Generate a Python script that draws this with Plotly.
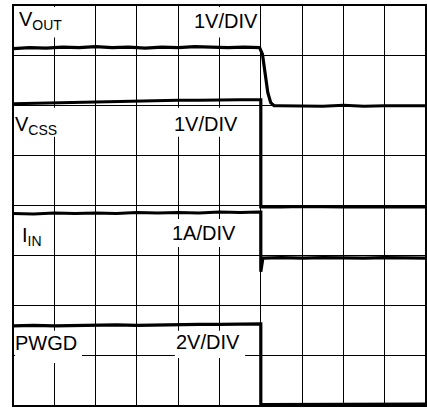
import plotly.graph_objects as go

# Time axis in divisions (10 horizontal divisions), traces in vertical divisions (8)
vout_t = [0, 0.4, 0.8, 1.2, 1.6, 2.0, 2.4, 2.8, 3.2, 3.6, 4.0, 4.4, 4.8, 5.2, 5.6, 5.97,
          6.04, 6.1, 6.17, 6.24, 6.32, 6.45, 7.0, 7.5, 8.0, 8.5, 9.0, 9.5, 10]
vout_v = [7.13, 7.15, 7.14, 7.16, 7.15, 7.17, 7.15, 7.16, 7.14, 7.16, 7.15, 7.17, 7.16, 7.15, 7.16, 7.15,
          7.02, 6.65, 6.25, 6.05, 5.99, 5.99, 5.99, 5.98, 6.0, 5.98, 5.99, 5.99, 5.99]

vcss_t = [0, 0.5, 1, 1.5, 2, 2.5, 3, 3.5, 4, 4.5, 5, 5.5, 6.0, 6.0, 6.5, 7, 8, 9, 10]
vcss_v = [6.03, 6.04, 6.05, 6.06, 6.07, 6.08, 6.09, 6.09, 6.10, 6.10, 6.11, 6.11, 6.11,
          3.97, 3.97, 3.98, 3.97, 3.97, 3.97]

iin_t = [0, 0.5, 1, 1.5, 2, 2.5, 3, 3.5, 4, 4.5, 5, 5.5, 5.97, 6.0, 6.0, 6.05, 6.5, 7,
         7.5, 8, 8.5, 9, 9.5, 10]
iin_v = [3.84, 3.83, 3.85, 3.84, 3.85, 3.84, 3.86, 3.85, 3.86, 3.85, 3.87, 3.86, 3.87, 3.87,
         2.68, 2.95, 2.96, 2.95, 2.96, 2.95, 2.95, 2.96, 2.95, 2.95]

pwgd_t = [0, 0.5, 1, 1.5, 2, 2.5, 3, 3.5, 4, 4.5, 5, 5.5, 6.0, 6.0, 6.5, 7, 7.5, 8, 8.5,
          9, 9.5, 10]
pwgd_v = [1.60, 1.61, 1.60, 1.61, 1.61, 1.62, 1.61, 1.62, 1.62, 1.63, 1.63, 1.64, 1.64,
          0.03, 0.03, 0.04, 0.03, 0.04, 0.03, 0.04, 0.03, 0.04]

labels = ["V<sub>OUT</sub>", "1V/DIV", "V<sub>CSS</sub>", "1V/DIV",
          "I<sub>IN</sub>", "1A/DIV", "PWGD", "2V/DIV"]

FONT = "Liberation Sans, Arial, Helvetica, sans-serif"

fig = go.Figure()
for t, v in [(vout_t, vout_v), (vcss_t, vcss_v), (iin_t, iin_v), (pwgd_t, pwgd_v)]:
    fig.add_trace(go.Scatter(x=t, y=v, mode="lines",
                             line=dict(color="black", width=3.2),
                             hoverinfo="skip", showlegend=False))

# white label boxes (x0, x1, y0, y1 in divisions)
boxes = [(0.05, 1.33, 7.35, 7.96), (4.19, 5.96, 7.35, 7.96),
         (0.05, 1.28, 5.37, 5.95), (3.85, 5.50, 5.37, 5.95),
         (0.05, 0.85, 3.11, 3.71), (3.75, 5.50, 3.17, 3.73),
         (0.05, 1.67, 0.86, 1.50), (3.92, 5.62, 0.96, 1.50)]
for x0, x1, y0, y1 in boxes:
    fig.add_shape(type="rect", xref="x", yref="y", x0=x0, x1=x1, y0=y0, y1=y1,
                  fillcolor="white", line=dict(width=0), layer="above")
fig.add_shape(type="rect", xref="paper", yref="paper", x0=0, x1=1, y0=0, y1=1,
              line=dict(color="black", width=2), layer="above")

# label anchors: (x, y, xanchor)
anchors = [(0.10, 7.70, "left"), (5.97, 7.68, "right"),
           (0.00, 5.60, "left"), (5.50, 5.62, "right"),
           (0.18, 3.38, "left"), (5.45, 3.45, "right"),
           (0.00, 1.25, "left"), (5.55, 1.28, "right")]
for txt, (x, y, xa) in zip(labels, anchors):
    fig.add_annotation(x=x, y=y, xref="x", yref="y", text=txt, showarrow=False,
                       xanchor=xa, yanchor="middle",
                       font=dict(family=FONT, size=20, color="black"))

fig.update_xaxes(range=[0, 10], dtick=1, showgrid=True, gridcolor="black", gridwidth=1,
                 zeroline=False, showticklabels=False, ticks="", showline=False, fixedrange=True)
fig.update_yaxes(range=[0, 8], dtick=1, showgrid=True, gridcolor="black", gridwidth=1,
                 zeroline=False, showticklabels=False, ticks="", showline=False, fixedrange=True)
fig.update_layout(width=427, height=409, margin=dict(l=13, r=1, t=5, b=3),
                  paper_bgcolor="white", plot_bgcolor="white")
fig.write_html("out.html", config={"displayModeBar": False},
               post_script="document.body.style.margin='0';document.body.style.padding='0';")
